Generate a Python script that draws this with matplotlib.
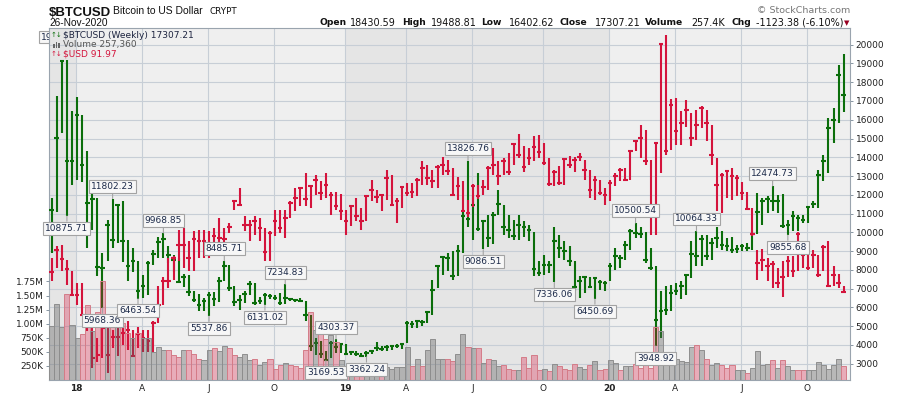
import matplotlib
matplotlib.use("Agg")
import matplotlib.pyplot as plt
from matplotlib.patches import Rectangle
import numpy as np

# weekly bars, week of 27-Nov-2017 .. week of 23-Nov-2020
btc_high = [11830, 17250, 19200, 19200, 16450, 17230, 16250, 14350, 12100, 11830,
            8900, 10670, 11802.23, 11500, 11650, 9600, 9160, 8450, 7740, 8450,
            9080, 9730, 9968.85, 9250, 8810, 8630, 7800, 7750, 6900, 6700,
            6500, 6800, 6800, 7600, 8485.71, 8250, 7150, 6650, 6850, 7400,
            7300, 6530, 6770, 6710, 6680, 6770, 7234.83, 6500, 6460, 6500,
            6360, 5610, 4370, 4225, 3660, 4200, 4303.37, 4100, 4050, 3700,
            3660, 3570, 3660, 3745, 4150, 3920, 3980, 4010, 4050, 4100,
            5260, 5290, 5340, 5340, 5820, 7480, 8280, 8720, 8900, 8990,
            9340, 11200, 13826.76, 12000, 13160, 10670, 10900, 11100, 12240, 11470,
            10900, 10670, 10900, 10620, 10400, 10020, 8450, 8770, 8450, 10300,
            9880, 9520, 9250, 8450, 7650, 7650, 7600, 7560, 7480, 7390,
            8360, 9160, 8800, 9520, 10180, 10500.54, 10300, 10020, 9160, 8190,
            6850, 7120, 7210, 7300, 7390, 7740, 9520, 10064.33, 9880, 9880,
            9700, 10280, 10050, 9700, 9730, 9340, 9380, 9430, 10100, 12100,
            11830, 11920, 12474.73, 12010, 12040, 10670, 11120, 10940, 10940, 11380,
            11650, 13340, 14140, 16090, 16630, 18940, 19488.81]
btc_low = [8900, 11100, 15300, 10875.71, 12500, 12790, 12700, 9160, 10100, 7650,
           5968.36, 8450, 9160, 9430, 8400, 7390, 7900, 6463.54, 6500, 6680,
           8280, 8630, 8630, 8370, 7900, 7300, 7100, 6600, 6300, 5800,
           5800, 5537.86, 6100, 6300, 7400, 6900, 6100, 5880, 6250, 6650,
           6150, 6160, 6131.02, 6460, 6410, 6150, 6180, 6360, 6290, 6320,
           5250, 3650, 3480, 3300, 3169.53, 3300, 3570, 3570, 3500, 3480,
           3390, 3400, 3362.24, 3510, 3660, 3660, 3690, 3745, 3830, 3800,
           4100, 4900, 4900, 4990, 5170, 5610, 7030, 7740, 7920, 7480,
           7650, 8900, 10300, 9600, 10050, 9086.51, 9200, 9400, 10900, 9880,
           9700, 9600, 9610, 9730, 9520, 7650, 7650, 7740, 7830, 7336.06,
           8630, 8540, 8190, 6850, 6500, 6770, 7030, 6450.69, 6940, 6850,
           7390, 7970, 8100, 8500, 9070, 9700, 9700, 8370, 8000, 3948.92,
           4370, 5610, 5790, 6680, 6460, 6680, 7570, 8190, 8190, 8540,
           8540, 9160, 9080, 8990, 8900, 8900, 9020, 9020, 9080, 9900,
           10410, 11030, 11120, 11030, 10230, 9855.68, 10050, 10050, 10500, 10500,
           11300, 11300, 12720, 13160, 14760, 15830, 16402.62]
btc_close = [11200, 15030, 19110, 13780, 13800, 16250, 13600, 11560, 11770, 8130,
             8080, 10400, 9600, 11470, 9550, 8190, 8450, 6900, 7120, 8360,
             8840, 9470, 9660, 8770, 8500, 7350, 7600, 6800, 6410, 6140,
             6320, 6650, 6450, 7390, 8190, 7030, 6300, 6400, 6700, 7245,
             6250, 6360, 6680, 6590, 6500, 6230, 6500, 6460, 6410, 6360,
             5610, 3920, 4100, 3510, 3210, 4100, 3870, 4050, 3510, 3620,
             3510, 3430, 3570, 3660, 3830, 3800, 3890, 3920, 3960, 4050,
             5170, 5110, 5260, 5200, 5730, 6940, 8190, 8670, 8630, 7650,
             9000, 10850, 10730, 11450, 10180, 10590, 9700, 10900, 11530, 10270,
             10140, 9790, 10410, 10270, 10140, 8060, 7830, 8280, 8240, 9560,
             9160, 9020, 8490, 7100, 7390, 7600, 7070, 7560, 7350, 7300,
             8190, 8720, 8630, 9310, 10090, 9960, 9930, 8540, 8100, 5340,
             5790, 5880, 6770, 6850, 7120, 7710, 8840, 8720, 9660, 8720,
             9430, 9700, 9310, 9250, 9080, 9130, 9250, 9160, 9910, 11110,
             11650, 11790, 11650, 11690, 10320, 10370, 10850, 10760, 10670, 11350,
             11530, 13070, 13780, 15560, 16000, 18400, 17307.21]

usd_high = [93.43, 93.93, 94.0, 93.36, 92.86, 92.36, 92.36, 91.0, 90.72, 90.0,
            90.43, 90.43, 90.36, 90.72, 90.65, 90.72, 90.36, 90.5, 90.36, 90.36,
            90.72, 92.22, 92.64, 93.43, 93.5, 94.64, 94.71, 94.14, 94.57, 94.64,
            94.64, 94.57, 94.71, 95.14, 94.71, 94.93, 95.93, 96.43, 95.21, 95.07,
            95.21, 95.14, 94.71, 94.57, 95.5, 95.5, 95.5, 95.86, 96.43, 96.43,
            97.07, 96.57, 97.0, 96.71, 97.07, 96.28, 96.28, 96.17, 95.5, 95.71,
            96.0, 95.57, 96.14, 96.78, 96.36, 96.14, 97.21, 97.0, 96.0, 96.5,
            96.64, 96.64, 96.86, 97.57, 97.43, 97.21, 97.4, 97.74, 97.64, 97.28,
            96.9, 96.71, 95.9, 96.6, 96.55, 96.78, 97.36, 98.14, 97.57, 97.71,
            97.93, 98.35, 98.74, 98.21, 98.14, 98.64, 98.68, 98.35, 97.71, 97.21,
            97.36, 97.71, 97.78, 97.74, 97.93, 97.64, 97.21, 96.93, 96.78, 96.43,
            96.78, 97.07, 97.28, 97.28, 98.03, 98.5, 99.14, 98.93, 97.64, 98.35,
            102.64, 103.0, 100.25, 100.28, 99.71, 100.21, 99.64, 99.78, 99.92, 99.78,
            99.14, 97.71, 97.07, 97.21, 97.28, 97.0, 96.68, 96.28, 95.57, 93.79,
            93.83, 93.43, 93.29, 93.0, 93.29, 93.5, 93.5, 94.54, 94.07, 93.86,
            93.79, 93.57, 94.0, 94.14, 93.07, 92.74, 92.22]
usd_low = [92.43, 93.0, 92.86, 92.29, 91.86, 91.43, 91.0, 90.3, 88.72, 89.0,
           89.15, 88.5, 89.58, 89.22, 89.72, 89.5, 89.22, 89.58, 89.43, 89.43,
           89.43, 90.65, 91.43, 92.14, 92.5, 93.29, 93.0, 92.86, 92.86, 93.43,
           93.43, 93.43, 93.71, 94.0, 93.79, 94.5, 95.5, 95.64, 94.57, 94.14,
           94.43, 94.14, 93.29, 93.29, 94.36, 94.5, 94.29, 95.14, 95.43, 95.64,
           95.64, 95.57, 96.14, 95.93, 96.0, 95.29, 95.5, 95.07, 94.43, 94.79,
           95.0, 94.64, 95.0, 95.86, 95.79, 95.43, 95.93, 95.71, 94.93, 95.57,
           96.07, 96.0, 96.07, 96.57, 96.57, 96.43, 96.43, 97.0, 97.0, 96.14,
           95.9, 95.43, 95.2, 95.6, 95.95, 96.14, 96.36, 97.0, 96.57, 97.0,
           97.0, 97.43, 97.71, 97.11, 97.43, 97.57, 97.71, 97.43, 96.5, 96.5,
           96.57, 96.57, 97.28, 97.11, 97.57, 96.78, 96.0, 95.93, 96.14, 95.71,
           95.86, 96.5, 96.71, 96.71, 96.78, 98.0, 97.71, 97.43, 94.43, 94.43,
           97.07, 97.86, 98.07, 98.28, 98.28, 99.03, 98.21, 98.5, 99.0, 98.43,
           97.43, 95.43, 95.36, 96.0, 95.93, 96.07, 95.93, 95.5, 94.36, 92.5,
           92.86, 92.43, 92.14, 92.14, 91.75, 92.64, 92.64, 92.86, 93.0, 92.93,
           93.0, 92.64, 92.86, 92.22, 92.22, 92.17, 91.93]
usd_close = [92.82, 93.79, 93.39, 92.97, 91.86, 91.86, 91.0, 90.5, 89.15, 89.29,
             90.43, 89.29, 90.07, 90.07, 90.22, 90.36, 89.22, 90.17, 90.0, 89.86,
             90.65, 91.43, 92.43, 92.43, 93.43, 94.0, 94.0, 93.43, 94.26, 94.14,
             94.14, 94.0, 94.36, 94.29, 94.26, 94.74, 95.86, 95.69, 94.86, 94.86,
             95.0, 94.71, 93.69, 94.5, 95.03, 94.71, 95.14, 95.79, 96.0, 96.43,
             95.97, 96.5, 96.78, 96.21, 96.57, 96.14, 95.64, 95.46, 95.03, 95.64,
             95.21, 95.03, 96.07, 96.36, 96.03, 96.11, 96.86, 95.71, 95.86, 96.46,
             96.21, 96.26, 96.78, 97.28, 96.86, 96.71, 97.31, 97.43, 97.17, 96.14,
             96.5, 95.46, 95.36, 96.53, 96.1, 96.46, 97.28, 97.43, 96.93, 97.57,
             97.11, 98.31, 97.86, 97.31, 97.71, 98.17, 97.97, 97.5, 96.61, 97.11,
             96.64, 97.68, 97.43, 97.64, 97.74, 97.21, 96.36, 96.78, 96.21, 96.14,
             96.64, 96.93, 97.21, 96.78, 98.0, 98.43, 98.57, 97.57, 95.57, 98.35,
             102.59, 98.03, 99.97, 98.88, 99.21, 99.78, 98.57, 99.14, 99.85, 99.21,
             97.83, 96.54, 97.0, 97.14, 96.93, 96.86, 96.21, 95.53, 94.46, 93.22,
             93.36, 93.07, 93.17, 92.36, 92.64, 93.29, 92.89, 94.46, 93.57, 93.0,
             93.57, 92.72, 93.89, 92.24, 92.72, 92.36, 91.97]

volume_k = [960, 1350, 940, 1530, 970, 740, 820, 1330, 870, 1200,
            1760, 1160, 950, 1080, 1010, 840, 740, 830, 740, 740,
            500, 580, 530, 530, 440, 400, 530, 530, 470, 380,
            350, 540, 560, 520, 610, 560, 440, 400, 470, 360,
            380, 260, 320, 380, 200, 260, 300, 260, 240, 220,
            530, 1210, 880, 840, 720, 800, 680, 350, 230, 250,
            250, 230, 230, 200, 250, 200, 230, 200, 230, 230,
            580, 250, 370, 250, 540, 730, 370, 370, 370, 340,
            470, 820, 580, 560, 560, 300, 380, 350, 250, 260,
            200, 170, 170, 400, 220, 440, 170, 200, 160, 280,
            250, 200, 170, 290, 230, 200, 260, 330, 180, 190,
            350, 300, 170, 240, 240, 280, 220, 260, 220, 935,
            875, 500, 440, 380, 330, 320, 580, 620, 540, 380,
            270, 300, 270, 220, 260, 180, 180, 130, 220, 510,
            270, 290, 350, 220, 350, 250, 180, 180, 180, 180,
            180, 320, 270, 200, 260, 370, 257.36]

quarter_weeks = [5, 18, 31, 44, 58, 70, 83, 97, 110, 123, 136, 149]
quarter_labels = ["18", "A", "J", "O", "19", "A", "J", "O", "20", "A", "J", "O"]

# (bar index, 'low' / 'high') for the swing callouts
callouts = [(3, "low"), (12, "high"), (10, "low"), (22, "high"), (17, "low"),
            (34, "high"), (31, "low"), (46, "high"), (42, "low"), (56, "high"),
            (54, "low"), (62, "low"), (82, "high"), (85, "low"), (99, "low"),
            (107, "low"), (115, "high"), (119, "low"), (127, "high"),
            (142, "high"), (145, "low")]

stats = [("Open", "18430.59"), ("High", "19488.81"), ("Low", "16402.62"),
         ("Close", "17307.21"), ("Volume", "257.4K"), ("Chg", "-1123.38 (-6.10%)")]

GREEN = "#0b6e0b"
RED = "#d4143c"
LIGHT = "#efefef"
DARK = "#e5e5e5"
GRID = "#c7ced6"
TXT = "#222222"

W, H = 900, 396


def fx(px):
    return px / W


def fy(py):
    return 1 - py / H


fig = plt.figure(figsize=(W / 100, H / 100), dpi=100)
fig.patch.set_facecolor("white")

ax = fig.add_axes([fx(49), fy(380), fx(850) - fx(49), fy(28) - fy(380)])
ax2 = ax.twinx()
ax3 = ax.twinx()

x = np.arange(len(btc_close))

ax.set_xlim(-0.53, 157.24)
ax.set_ylim(2131, 20890)
ax2.set_ylim(88.21, 103.28)
ax3.set_ylim(0, 6.25e6)

# background with alternating year shading
ax.set_facecolor(LIGHT)
qpos = [q - 0.15 for q in quarter_weeks]
ax.axvspan(-1, qpos[0], color=DARK, lw=0, zorder=0)
ax.axvspan(qpos[4], qpos[8], color=DARK, lw=0, zorder=0)

ax.set_yticks(range(3000, 20001, 1000))
ax.set_xticks(qpos)
ax.set_xticklabels(quarter_labels)
for lab in ax.get_xticklabels():
    if lab.get_text().isdigit():
        lab.set_fontweight("bold")
ax.grid(True, color=GRID, lw=0.8)
ax.set_axisbelow(True)

ax.yaxis.tick_right()
ax.tick_params(axis="y", which="both", left=False, labelleft=False, right=True, labelright=True,
               direction="out", length=2.5, width=0.7, color="#8896a4", pad=1.5,
               labelsize=6.5, labelcolor=TXT)
ax.tick_params(axis="x", length=0, pad=3, labelsize=6.5, labelcolor=TXT)

ax2.set_yticks([])
ax2.tick_params(axis="y", right=False, labelright=False)

vol_ticks = [250e3, 500e3, 750e3, 1.0e6, 1.25e6, 1.5e6, 1.75e6]
ax3.yaxis.tick_left()
ax3.set_yticks(vol_ticks)
ax3.set_yticklabels(["250K", "500K", "750K", "1.00M", "1.25M", "1.50M", "1.75M"])
ax3.tick_params(axis="y", left=True, labelleft=True, right=False, labelright=False,
                direction="out", length=2.5, width=0.7, color="#8896a4", pad=1.5,
                labelsize=6.5, labelcolor=TXT)

for a in (ax2, ax3):
    for s in a.spines.values():
        s.set_visible(False)
for s in ax.spines.values():
    s.set_color("#9aa4ae")
    s.set_linewidth(0.8)

# price bars: high-low line with close tick across
ax.vlines(x, btc_low, btc_high, color=GREEN, lw=1.5, capstyle="butt", zorder=3)
ax.hlines(btc_close, x - 0.45, x + 0.45, color=GREEN, lw=1.5, capstyle="butt", zorder=3)

ax2.vlines(x, usd_low, usd_high, color=RED, lw=1.5, capstyle="butt", zorder=3)
ax2.hlines(usd_close, x - 0.45, x + 0.45, color=RED, lw=1.5, capstyle="butt", zorder=3)

# volume, coloured by direction of the close
vol = np.array(volume_k) * 1000
up = np.r_[True, np.diff(btc_close) >= 0]
face = [(0.35, 0.35, 0.35, 0.36) if u else (0.86, 0.08, 0.24, 0.3) for u in up]
edge = ["#8e8e8e" if u else "#d47c88" for u in up]
ax3.bar(x, vol, width=1.0, color=face, edgecolor=edge, linewidth=0.7, zorder=2)

# swing labels
for i, kind in callouts:
    low = kind == "low"
    val = btc_low[i] if low else btc_high[i]
    ax3.annotate("%.2f" % val, xy=(i, val), xycoords=ax.transData,
                 xytext=(0, -5.5 if low else 5.5), textcoords="offset points",
                 ha="center", va="top" if low else "bottom", fontsize=6.5, color="#1d2b4a",
                 bbox=dict(boxstyle="square,pad=0.22", fc="#f7f7f7", ec="#a3a3a3", lw=0.8),
                 arrowprops=dict(arrowstyle="-", color="#a3a3a3", lw=0.8, shrinkA=0, shrinkB=0),
                 annotation_clip=False, zorder=10)

# max label peeking out from behind the plot on the left (only "19" shows)
fig.text(fx(40.5), fy(37), "19", fontsize=6.5, color="#1d2b4a",
         va="center", ha="left", zorder=-1,
         bbox=dict(boxstyle="square,pad=0.22", fc="#f7f7f7", ec="#a3a3a3", lw=0.8))

# header
fig.text(fx(49), fy(15.5), "$BTCUSD", fontsize=9.5, fontweight="bold", family="Liberation Sans",
         color="#111111", va="baseline")
fig.text(fx(113), fy(14.5), "Bitcoin to US Dollar", fontsize=7.5, family="Liberation Sans",
         color="#111111", va="baseline")
fig.text(fx(209), fy(14.5), "CRYPT", fontsize=6.3, color="#111111", va="baseline")
fig.text(fx(49), fy(26), "26-Nov-2020", fontsize=7.3, family="Liberation Sans",
         color="#111111", va="baseline")
fig.text(fx(850), fy(10.5), "\u00a9 StockCharts.com", fontsize=6.8, color="#777777",
         va="center", ha="right")

stat_x = [(319.3, 349.5), (401.7, 431), (480.7, 509), (559, 595), (645, 691), (731, 756)]
for (lab, val), (xl, xv) in zip(stats, stat_x):
    fig.text(fx(xl), fy(22.5), lab, fontsize=6.6, fontweight="bold", color="#111111", va="center")
    fig.text(fx(xv), fy(22.5), val, fontsize=6.9, color="#111111", va="center")
fig.text(fx(843.5), fy(23), "\u25bc", fontsize=5, color="#990022", va="center")

# legend block
fig.text(fx(51), fy(35), "\u2191\u2193", fontsize=5.0, color=GREEN, va="center")
fig.text(fx(63), fy(35), "$BTCUSD (Weekly) %.2f" % btc_close[-1], fontsize=6.5,
         color="#1d2440", va="center")
for bx, bh in [(53, 4), (55.5, 6), (58, 5)]:
    fig.add_artist(Rectangle((fx(bx), fy(48)), 1.8 / W, bh / H, transform=fig.transFigure,
                             color="#666666", lw=0))
fig.text(fx(63), fy(44.5), "Volume {:,}".format(int(round(volume_k[-1] * 1000))),
         fontsize=6.5, color="#555555", va="center")
fig.text(fx(51), fy(53.7), "\u2191\u2193", fontsize=5.0, color=RED, va="center")
fig.text(fx(63), fy(53.7), "$USD %.2f" % usd_close[-1], fontsize=6.5, color=RED, va="center")

fig.savefig("out.png", dpi=100)
